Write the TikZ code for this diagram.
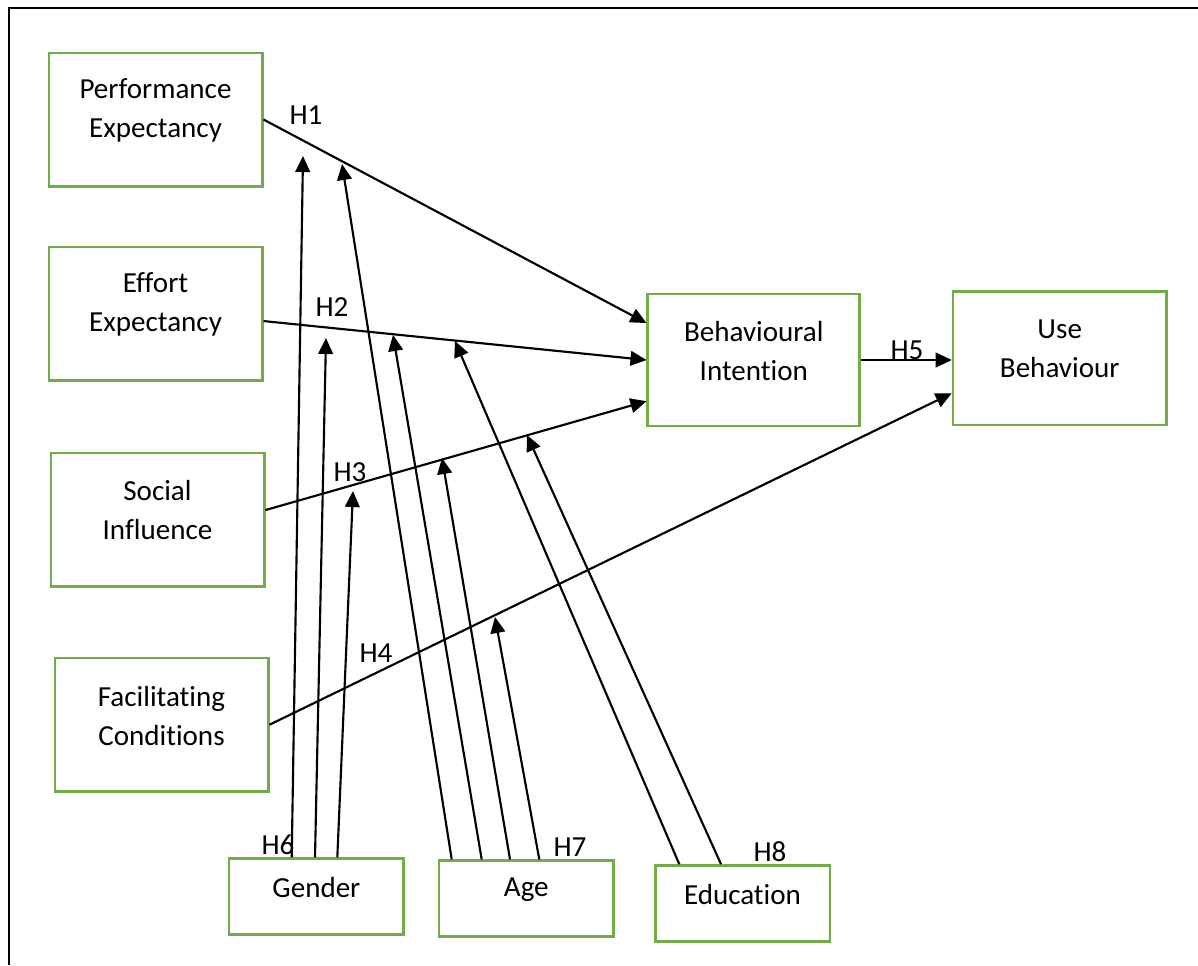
\documentclass[tikz,border=0pt]{standalone}
\usepackage{fontspec}
\setmainfont[Ligatures=NoCommon]{Carlito}
\usepackage{tikz}
\usetikzlibrary{arrows.meta, calc}
\definecolor{boxgreen}{RGB}{112,173,71}
\tikzstyle{construct} = [rectangle, draw=boxgreen, line width=2pt, minimum width=160pt, minimum height=100pt, inner sep=0pt]
\tikzstyle{moderator} = [construct, minimum width=131pt, minimum height=57pt]
\tikzstyle{boxtext} = [align=center, yshift=6.8pt]
\tikzstyle{arrow} = [draw, line width=1.6pt, -{Triangle[length=12pt, width=11pt]}]
\tikzstyle{hyp} = [inner sep=0pt]

\begin{document}
\begin{tikzpicture}[x=0.75pt, y=-0.75pt, font=\fontsize{21.8pt}{29.25pt}\selectfont]
            \useasboundingbox (0,0) rectangle (1198,965);
            \draw[line width=2pt] (9,965) -- (9,8) -- (1198,8);

            % Nodes
            \node[construct, label={[boxtext]center:{Performance\\Expectancy}}] (pe) at (155.5,119.5) {};
            \node[construct, label={[boxtext]center:{Effort\\Expectancy}}] (ee) at (155.5,313.5) {};
            \node[construct, label={[boxtext]center:{Social\\Influence}}] (si) at (157.5,519.5) {};
            \node[construct, label={[boxtext]center:{Facilitating\\Conditions}}] (fc) at (161.5,724.7) {};
            \node[construct, minimum width=159pt, minimum height=99pt, label={[boxtext]center:{Behavioural\\Intention}}] (bi) at (753.8,360) {};
            \node[construct, label={[boxtext]center:{Use\\Behaviour}}] (ub) at (1059.7,358.2) {};
            \node[moderator, label={[boxtext]center:Gender}] (gender) at (316.4,896.7) {};
            \node[moderator, label={[boxtext]center:Age}] (age) at (526.3,898.7) {};
            \node[moderator, label={[boxtext]center:Education}] (edu) at (742.5,903.5) {};

            % Hypothesis labels
            \node[hyp] (h1) at (306,115) {H1};
            \node[hyp] (h2) at (332,307) {H2};
            \node[hyp] (h3) at (350,472) {H3};
            \node[hyp] (h4) at (376,653) {H4};
            \node[hyp] (h5) at (907,350) {H5};
            \node[hyp] (h6) at (278,845) {H6};
            \node[hyp] (h7) at (570,847) {H7};
            \node[hyp] (h8) at (770,852) {H8};

            % Moderator targets
            \coordinate (g1) at (303,156);
            \coordinate (g2) at (326,338);
            \coordinate (g3) at (353,491);
            \coordinate (a1) at (342,164);
            \coordinate (a2) at (393,335);
            \coordinate (a3) at (442,458);
            \coordinate (a4) at (495,617);
            \coordinate (e1) at (455,341);
            \coordinate (e2) at (527,435);

            % Edges
            \draw[arrow] (pe.east) -- (bi.161);
            \draw[arrow] (ee.356) -- (bi.west);
            \draw[arrow] (si.5) -- (bi.201);
            \draw[arrow] (fc.east) -- (ub.198);
            \draw[arrow] (bi.east) -- (bi.east -| ub.west);

            \draw[arrow] ($(gender.north)+(-24.7,0)$) -- (g1);
            \draw[arrow] ($(gender.north)+(-1.4,0)$) -- (g2);
            \draw[arrow] ($(gender.north)+(20.9,0)$) -- (g3);
            \draw[arrow] ($(age.north)+(-74.6,0)$) -- (a1);
            \draw[arrow] ($(age.north)+(-44.6,0)$) -- (a2);
            \draw[arrow] ($(age.north)+(-16.3,0)$) -- (a3);
            \draw[arrow] ($(age.north)+(13,0)$) -- (a4);
            \draw[arrow] ($(edu.north)+(-63.2,0)$) -- (e1);
            \draw[arrow] ($(edu.north)+(-21.5,0)$) -- (e2);
        \end{tikzpicture}
\end{document}
